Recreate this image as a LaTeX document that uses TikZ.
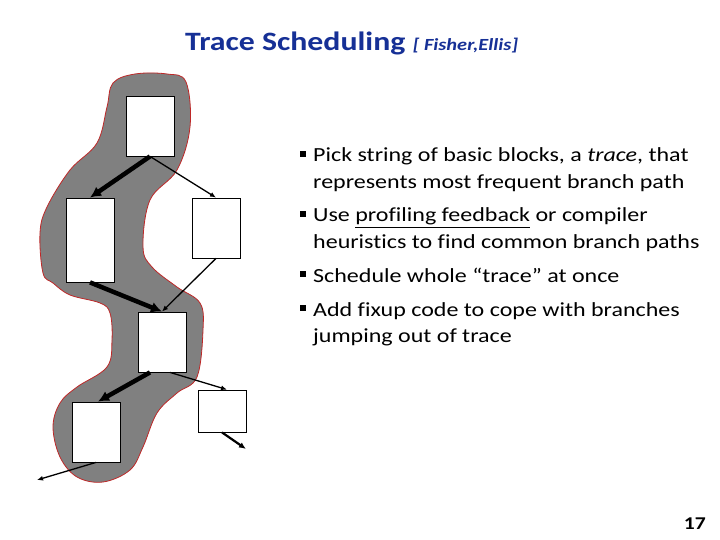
\documentclass[tikz,border=0pt]{standalone}
\usepackage{fontspec}
\setmainfont[Ligatures=NoCommon]{Carlito}
\usepackage{tikz}
\usetikzlibrary{arrows.meta,positioning}
\definecolor{titleblue}{RGB}{22,48,150}
\definecolor{traceedge}{RGB}{190,40,40}
\newcommand{\wide}[1]{\scalebox{1.2}[1]{#1}}

\begin{document}
\begin{tikzpicture}[x=1pt, y=-1pt,
  block/.style={draw, fill=white, line width=0.8pt, inner sep=0pt},
  hot/.style={line width=4.5pt, -{Latex[length=11pt,width=11pt]}},
  cold/.style={line width=1.3pt, -{Latex[length=6pt,width=5pt]}},
  item/.style={anchor=base west, inner sep=0pt, font=\fontsize{20}{24}\selectfont}]
\useasboundingbox (0,0) rectangle (720,540);
% Trace region
    \draw[traceedge, fill=black!50, line width=0.8pt] plot[smooth cycle, tension=0.6] coordinates {
      (135,74) (167,74) (186,82) (190,127) (177,170) (150,200) (143,247) (152,267)
      (177,287) (200,303) (203,330) (197,377) (177,393) (157,413) (143,447) (130,470)
      (103,482) (77,477) (60,457) (53,427) (60,403) (77,387) (107,367) (112,340)
      (110,313) (100,303) (70,295) (53,283) (43,273) (40,233) (47,207) (70,170)
      (97,143) (107,107) (113,83)};
% Basic blocks
    \node[block, minimum width=48, minimum height=60] (top) at (150,126) {};
    \node[block, minimum width=48, minimum height=84] (lmid) at (90,240) {};
    \node[block, minimum width=48, minimum height=60] (rmid) at (216,228) {};
    \node[block, minimum width=48, minimum height=60] (ctr) at (162,342) {};
    \node[block, minimum width=48, minimum height=60] (bl) at (96,432) {};
    \node[block, minimum width=48, minimum height=42] (br) at (222,411) {};
    \coordinate (brexit) at (246,449);
    \coordinate (blexit) at (37,480);
% Branches along the trace
    \draw[hot] (top.south) -- (lmid.north);
    \draw[hot] (lmid.south) -- (ctr.north);
    \draw[hot] ([xshift=-12pt]ctr.south) -- ([xshift=2pt]bl.north);
% Branches off the trace
    \draw[cold] (top.south) -- (rmid.north);
    \draw[cold] (rmid.south) -- (ctr.north);
    \draw[cold] ([xshift=8pt]ctr.south) -- ([xshift=5pt]br.north);
    \draw[line width=2.2pt, -{Latex[length=7pt,width=6pt]}] (br.south) -- (brexit);
    \draw[cold] (bl.south) -- (blexit);
% Title
    \node[anchor=base west, inner sep=0pt, text=titleblue, font=\fontsize{26.5}{30}\selectfont\bfseries] (title) at (185,51) {\wide{Trace Scheduling}};
    \node[anchor=base west, inner sep=0pt, text=titleblue, font=\fontsize{17}{20}\selectfont\bfseries\itshape] (cite) at ([xshift=7pt]title.base east) {\wide{[ Fisher,Ellis]}};
% Bullets
    \node[item] (p1) at (313,162) {\wide{Pick string of basic blocks, a \textit{trace}, that}};
    \node[item] (p1b) at (313,189) {\wide{represents most frequent branch path}};
    \node[item] (p2) at (313,222) {\wide{Use \underline{profiling feedback} or compiler}};
    \node[item] (p2b) at (313,248) {\wide{heuristics to find common branch paths}};
    \node[item] (p3) at (313,282) {\wide{Schedule whole “trace” at once}};
    \node[item] (p4) at (313,316) {\wide{Add fixup code to cope with branches}};
    \node[item] (p4b) at (313,342) {\wide{jumping out of trace}};
    \foreach \n in {p1,p2,p3,p4}
      \fill ([xshift=-13pt,yshift=5pt]\n.base west) rectangle +(6,-6);
% Page number
    \node[anchor=base east, inner sep=0pt, font=\fontsize{18}{20}\selectfont\bfseries] (page) at (706,529) {\wide{17}};
\end{tikzpicture}
\end{document}
